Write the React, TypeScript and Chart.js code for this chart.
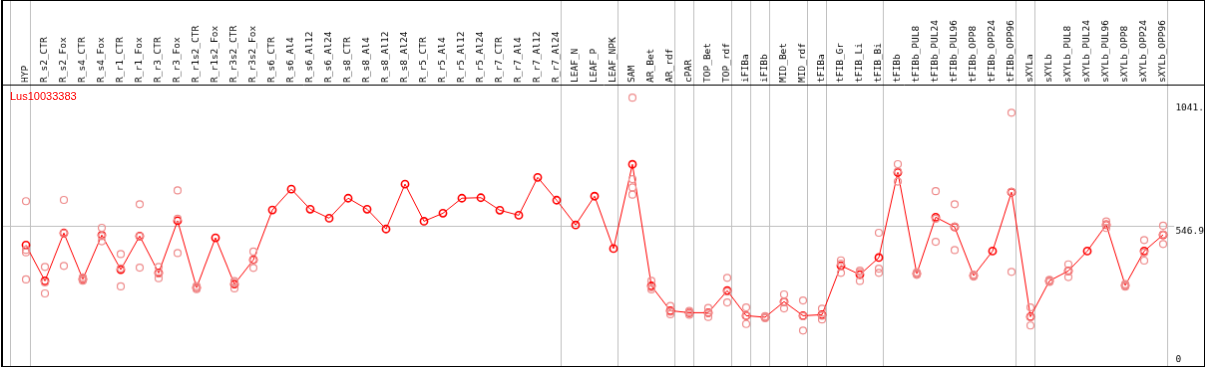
import React, { useEffect, useRef } from 'react';
import { Chart, registerables } from 'chart.js';

Chart.register(...registerables);

const geneName = 'Lus10033383';

const categories = [
  'HYP', 'R_s2_CTR', 'R_s2_Fox', 'R_s4_CTR', 'R_s4_Fox', 'R_r1_CTR', 'R_r1_Fox', 'R_r3_CTR', 'R_r3_Fox',
  'R_r1s2_CTR', 'R_r1s2_Fox', 'R_r3s2_CTR', 'R_r3s2_Fox', 'R_s6_CTR', 'R_s6_Al4', 'R_s6_Al12', 'R_s6_Al24',
  'R_s8_CTR', 'R_s8_Al4', 'R_s8_Al12', 'R_s8_Al24', 'R_r5_CTR', 'R_r5_Al4', 'R_r5_Al12', 'R_r5_Al24',
  'R_r7_CTR', 'R_r7_Al4', 'R_r7_Al12', 'R_r7_Al24', 'LEAF_N', 'LEAF_P', 'LEAF_NPK', 'SAM', 'AR_Bet', 'AR_rdf',
  'cPAR', 'TOP_Bet', 'TOP_rdf', 'iFIBa', 'iFIBb', 'MID_Bet', 'MID_rdf', 'tFIBa', 'tFIB_Gr', 'tFIB_Li', 'tFIB_Bi',
  'tFIBb', 'tFIBb_PUL8', 'tFIBb_PUL24', 'tFIBb_PUL96', 'tFIBb_OPP8', 'tFIBb_OPP24', 'tFIBb_OPP96', 'sXYLa',
  'sXYLb', 'sXYLb_PUL8', 'sXYLb_PUL24', 'sXYLb_PUL96', 'sXYLb_OPP8', 'sXYLb_OPP24', 'sXYLb_OPP96',
];

const meanValues = [
  474, 331, 522, 338, 514, 376, 510, 363, 571,
  304, 503, 318, 415, 614, 697, 617, 581,
  661, 617, 538, 717, 569, 601, 661, 663,
  613, 593, 744, 653, 554, 669, 460, 796, 311, 212,
  204, 204, 292, 192, 186, 248, 192, 196, 392, 356, 424,
  764, 360, 585, 546, 352, 450, 685, 188,
  331, 371, 450, 555, 313, 450, 515,
];

const N = null;
const rep1 = [
  649, 387, 654, 345, 543, 438, 637, 387, 692,
  310, N, 330, 448, N, N, N, N,
  N, N, N, N, N, N, N, N,
  N, N, N, N, N, N, N, 1062, 331, 231,
  211, 223, 343, 225, 190, 277, 253, 220, 413, 372, 523,
  797, 365, 689, 637, 356, N, 1002, 225,
  335, 397, N, 568, 318, 494, 551,
];
const rep2 = [
  455, 325, 521, 338, 510, 381, 509, 360, 579,
  304, N, 323, 414, N, N, N, N,
  N, N, N, N, N, N, N, N,
  N, N, N, N, N, N, N, 737, 305, 208,
  205, 203, 288, 192, 186, 246, 190, 192, 400, 365, 380,
  768, 360, 579, 547, 352, N, 686, 186,
  331, 370, N, 555, 313, 444, 516,
];
const rep3 = [
  445, 281, 391, 332, 489, 309, 384, 342, 442,
  298, N, 301, 383, N, N, N, N,
  N, N, N, N, N, N, N, N,
  N, N, N, N, N, N, N, 704, 297, 198,
  196, 187, 245, 159, 182, 221, 133, 177, 363, 331, 363,
  727, 355, 487, 454, 348, N, 367, 153,
  327, 346, N, 542, 308, 412, 478,
];
const rep4 = [
  337, N, N, N, N, N, N, N, N,
  N, N, N, N, N, N, N, N,
  N, N, N, N, N, N, N, N,
  N, N, N, N, N, N, N, 675, N, N,
  N, N, N, N, N, N, N, N, N, N, N,
  N, N, N, N, N, N, N, N,
  N, N, N, N, N, N, N,
];

const separatorPositions = [-0.8, 0.25, 28.25, 31.25, 34.25, 35.25, 37.25, 38.25, 39.25, 41.25, 42.25, 45.25, 52.25, 53.25, 60.25];

const yTickValues = [0, 546.9, 1041];
const yTickLabels = ['0', '546.9', '1041.'];

const MONO = '"DejaVu Sans Mono", "Liberation Mono", monospace';

export default function App() {
  const ref = useRef<HTMLCanvasElement>(null);

  useEffect(() => {
    document.body.style.margin = '0';
    const canvas = ref.current;
    if (!canvas) return;

    const repPoints: { x: number; y: number }[] = [];
    categories.forEach((_, i) => {
      [rep1, rep2, rep3, rep4].forEach((arr) => {
        const v = arr[i];
        if (v !== null && v !== undefined) repPoints.push({ x: i, y: v });
      });
    });
    const meanPoints = meanValues.map((v, i) => ({ x: i, y: v }));

    const plotWidth = 1204;
    const pxPerCat = 19;
    const xMin = -23 / pxPerCat;
    const xMax = xMin + plotWidth / pxPerCat;
    const labelFontSize = 9.5;
    const labelLineHeight = 1.2;

    const chart = new Chart(canvas, {
      type: 'line',
      data: {
        datasets: [
          {
            type: 'scatter',
            data: repPoints,
            showLine: false,
            pointRadius: 3.5,
            pointHoverRadius: 3.5,
            pointBorderWidth: 1.2,
            pointBorderColor: 'rgb(238,140,140)',
            pointBackgroundColor: 'rgba(0,0,0,0)',
          } as any,
          {
            type: 'line',
            data: meanPoints,
            borderColor: '#ff0000',
            borderWidth: 1,
            pointRadius: 3.6,
            pointHoverRadius: 3.6,
            pointBorderWidth: 1.6,
            pointBorderColor: '#ff0000',
            pointBackgroundColor: 'rgba(0,0,0,0)',
            tension: 0,
          } as any,
        ],
      },
      options: {
        responsive: false,
        animation: false,
        devicePixelRatio: 1,
        layout: { padding: 0, autoPadding: false },
        plugins: { legend: { display: false }, tooltip: { enabled: false }, title: { display: false } },
        events: [],
        scales: {
          x: {
            type: 'linear',
            position: 'top',
            min: xMin,
            max: xMax,
            afterBuildTicks: (scale: any) => {
              const vals = [...categories.map((_, i) => i), ...separatorPositions].sort((a, b) => a - b);
              scale.ticks = vals.map((v) => ({ value: v }));
            },
            afterFit: (scale: any) => {
              scale.height = 84;
              scale.paddingLeft = 0;
              scale.paddingRight = 0;
              scale.paddingTop = 0;
              scale.paddingBottom = 0;
            },
            ticks: {
              autoSkip: false,
              minRotation: 90,
              maxRotation: 90,
              padding: -83,
              labelOffset: labelFontSize * labelLineHeight,
              color: '#000',
              font: { family: MONO, size: labelFontSize, lineHeight: labelLineHeight },
              callback: (value: any) => (Number.isInteger(value) && value >= 0 && value < categories.length ? categories[value] : ''),
            },
            grid: {
              display: true,
              drawOnChartArea: true,
              drawTicks: true,
              tickLength: 85,
              lineWidth: 1,
              color: (ctx: any) => (ctx.tick && separatorPositions.includes(ctx.tick.value) ? '#c0c0c0' : 'rgba(0,0,0,0)'),
              tickColor: (ctx: any) => (ctx.tick && separatorPositions.includes(ctx.tick.value) ? '#c0c0c0' : 'rgba(0,0,0,0)'),
            },
            border: { display: true, color: '#000', width: 1 },
          },
          y: {
            type: 'linear',
            position: 'right',
            min: -8.73,
            max: 1114.4,
            afterBuildTicks: (scale: any) => {
              scale.ticks = yTickValues.map((v) => ({ value: v }));
            },
            afterFit: (scale: any) => {
              scale.width = 0;
              scale.paddingLeft = 0;
              scale.paddingRight = 0;
              scale.paddingTop = 0;
              scale.paddingBottom = 0;
            },
            ticks: {
              autoSkip: false,
              mirror: true,
              crossAlign: 'far',
              padding: 0,
              color: '#000',
              font: { family: MONO, size: 9.5, lineHeight: 1 },
              showLabelBackdrop: (ctx: any) => ctx.index !== 0,
              backdropColor: '#ffffff',
              backdropPadding: { left: 1, right: 0, top: 0, bottom: 0 },
              callback: (_v: any, index: number) => (index === 0 ? [yTickLabels[index], ''] : ['', yTickLabels[index]]),
            },
            grid: {
              drawTicks: false,
              lineWidth: 1,
              color: (ctx: any) => (ctx.tick && ctx.tick.value === yTickValues[1] ? '#c0c0c0' : 'rgba(0,0,0,0)'),
            },
            border: { display: false },
          },
        },
      } as any,
    });

    return () => chart.destroy();
  }, []);

  return (
    <div style={{ position: 'relative', width: 1209, height: 370 }}>
      <canvas
        ref={ref}
        width={1204}
        height={367}
        style={{
          display: 'block',
          marginLeft: 1,
          borderLeft: '2px solid #000',
          borderTop: '1px solid #000',
          borderRight: '1px solid #000',
          borderBottom: '1px solid #000',
          width: 1204,
          height: 367,
        }}
      />
      <div
        style={{
          position: 'absolute',
          left: 10,
          top: 91,
          color: '#ff0000',
          fontFamily: '"Liberation Sans", Arial, sans-serif',
          fontSize: 11,
          lineHeight: '11px',
          whiteSpace: 'nowrap',
        }}
      >
        {geneName}
      </div>
    </div>
  );
}
